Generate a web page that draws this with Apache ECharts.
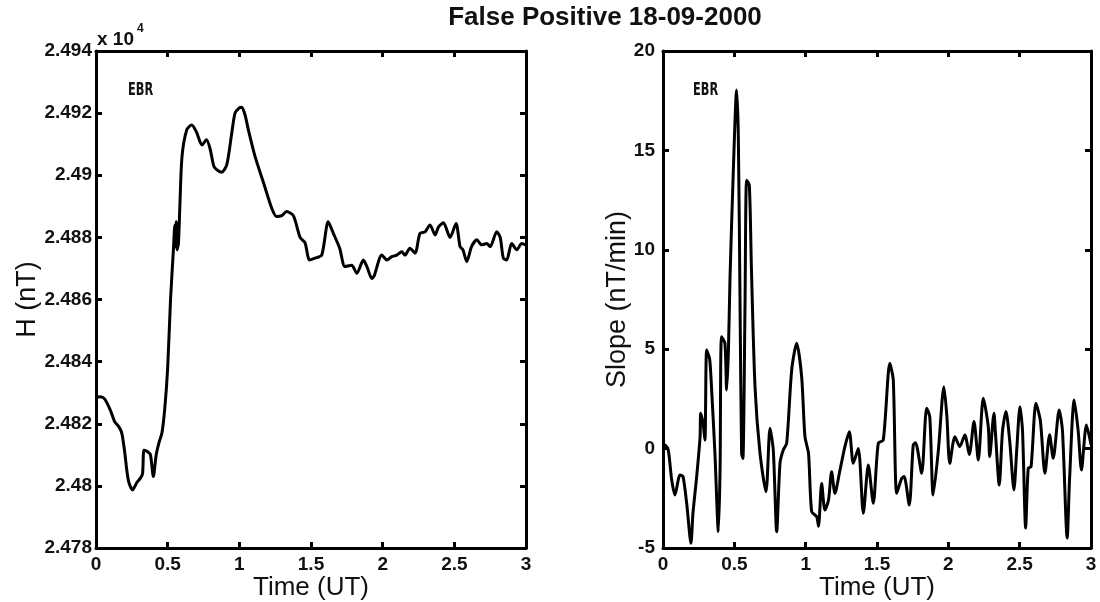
<!DOCTYPE html>
<html>
<head>
<meta charset="utf-8">
<script src="https://cdn.jsdelivr.net/npm/echarts@6/dist/echarts.min.js"></script>
<style>html,body{margin:0;padding:0;background:#fff}#c{width:1100px;height:602px}</style>
</head>
<body>
<div id="c"></div>
<script>
// ---- Data ----
const chartTitle = 'False Positive 18-09-2000';
const stationLabel = 'EBR';
const xTicks = [0, 0.5, 1, 1.5, 2, 2.5, 3];
const hTicks = [24780, 24800, 24820, 24840, 24860, 24880, 24900, 24920, 24940];
const slopeTicks = [-5, 0, 5, 10, 15, 20];

const hTime = [0,0.03,0.06,0.1,0.13,0.16,0.18,0.2,0.215,0.23,0.256,0.284,0.31,0.325,0.335,0.36,0.38,0.40,0.42,0.44,0.46,0.48,0.5,0.52,0.54,0.55,0.555,0.56,0.565,0.575,0.585,0.6,0.633,0.668,0.70,0.74,0.77,0.795,0.823,0.85,0.877,0.912,0.947,0.97,1.0,1.017,1.04,1.063,1.11,1.17,1.226,1.26,1.296,1.33,1.377,1.424,1.458,1.49,1.528,1.575,1.62,1.656,1.70,1.737,1.784,1.82,1.865,1.89,1.924,1.94,1.994,2.03,2.063,2.098,2.133,2.156,2.19,2.226,2.26,2.296,2.33,2.366,2.39,2.424,2.47,2.512,2.54,2.56,2.587,2.62,2.657,2.69,2.726,2.75,2.796,2.82,2.842,2.865,2.90,2.936,2.97,3.0];
const hValues = [24828.5,24828.7,24828,24824.4,24820.7,24819,24817,24811,24805,24801,24798.7,24801,24802.5,24804,24811.5,24811,24810,24803,24810,24814,24817,24825,24838,24860,24876,24884,24877,24885,24876,24878,24890,24906,24914.6,24916.2,24914,24909.7,24911.4,24908.7,24902.8,24901.5,24901,24903.3,24913.5,24920,24921.7,24921.9,24919.4,24914.6,24906,24897.4,24889.4,24886.7,24887,24888.3,24887,24880,24878.3,24872.7,24873.3,24874.3,24885,24881.3,24876.5,24870.6,24871,24868.4,24872.7,24870.6,24866.8,24867.5,24874.3,24872.7,24873.8,24874.3,24875.4,24874.3,24876.5,24874.9,24881.3,24881.8,24884,24880.8,24883.4,24884.7,24880,24884.5,24877,24876,24872.2,24877,24879.2,24877.6,24878,24877,24881.8,24880,24873.3,24872.7,24878,24876,24878,24877.5];

const slopeTime = [0,0.014,0.037,0.061,0.084,0.119,0.14,0.166,0.196,0.21,0.236,0.26,0.264,0.28,0.294,0.306,0.327,0.341,0.364,0.388,0.40,0.41,0.434,0.446,0.458,0.47,0.493,0.516,0.528,0.54,0.551,0.56,0.575,0.586,0.605,0.62,0.645,0.68,0.722,0.75,0.773,0.797,0.82,0.843,0.867,0.902,0.937,0.972,0.995,1.02,1.042,1.077,1.09,1.112,1.135,1.16,1.182,1.205,1.24,1.275,1.306,1.334,1.369,1.404,1.439,1.474,1.509,1.544,1.59,1.614,1.638,1.673,1.69,1.726,1.754,1.77,1.813,1.848,1.87,1.894,1.93,1.969,1.99,2.01,2.046,2.08,2.116,2.147,2.18,2.21,2.245,2.28,2.29,2.32,2.33,2.357,2.38,2.404,2.43,2.46,2.48,2.502,2.52,2.542,2.56,2.58,2.614,2.645,2.677,2.71,2.735,2.777,2.80,2.833,2.85,2.882,2.91,2.933,2.968,3.0];
const slopeValues = [0.1,0.18,-0.07,-1.58,-2.33,-1.33,-1.4,-2.75,-4.76,-3.25,-1.41,0.6,1.78,1.3,0.43,4.96,4.5,2.95,-0.24,-4.18,-1.08,5.63,5.3,2.95,4.8,8.65,14.0,18.04,15.7,7.3,-0.24,-0.5,7.3,13.5,13.26,8.98,3.1,-0.24,-2.17,1.02,-0.07,-4.18,-0.74,-0.07,0.27,3.95,5.3,3.6,0.6,-0.24,-3.17,-3.42,-3.9,-1.75,-3.09,-2.6,-1.16,-2.25,-1.1,0.1,0.85,-0.74,0.01,-3.25,-0.83,-2.75,0.27,0.43,4.29,3.45,-2.25,-1.5,-1.4,-2.84,0.18,0.3,-1.24,2.03,1.6,-2.33,-0.1,3.11,1.6,-0.74,0.6,0.1,0.68,-0.3,1.36,-0.57,2.53,1.1,-0.4,1.78,0.8,-1.83,0.9,1.86,0.4,-2.08,0,2.11,0.9,-4.0,-1.0,-0.9,2.28,1.4,-1.24,0.7,-0.49,1.94,0.9,-4.5,-1.5,2.44,0.9,-1.08,1.19,0.2];

// ---- Chart ----
const chart = echarts.init(document.getElementById('c'), null, {renderer: 'canvas'});
const F = 'Liberation Sans, Arial, sans-serif';
const lineStyle = {color: '#000', width: 3};
const tickLabel = {color: '#111', fontFamily: F, fontWeight: 'bold', fontSize: 19};

function xAx(gi, pos, showLabel, name) {
  return {
    type: 'value', gridIndex: gi, position: pos, min: 0, max: 3, interval: 0.5,
    axisLine: {show: true, onZero: false, lineStyle: lineStyle},
    axisTick: {show: true, inside: true, length: 6, lineStyle: {color: '#000', width: 3}},
    axisLabel: Object.assign({show: showLabel, margin: 7, formatter: v => String(v)}, tickLabel),
    splitLine: {show: false},
    name: name || '', nameLocation: 'middle', nameGap: 27, nameMoveOverlap: false,
    nameTextStyle: {fontFamily: F, fontSize: 26, color: '#111'}
  };
}
function yAx(gi, pos, showLabel, min, max, interval, fmt, name, gap) {
  return {
    type: 'value', gridIndex: gi, position: pos, min: min, max: max, interval: interval,
    axisLine: {show: true, onZero: false, lineStyle: lineStyle},
    axisTick: {show: true, inside: true, length: 6, lineStyle: {color: '#000', width: 3}},
    axisLabel: Object.assign({show: showLabel, margin: gi === 1 ? 8 : 4, formatter: fmt}, tickLabel),
    splitLine: {show: false},
    name: name || '', nameLocation: 'middle', nameGap: gap || 0, nameMoveOverlap: false,
    nameTextStyle: {fontFamily: F, fontSize: 27, color: '#111'}
  };
}

const hFmt = v => String(parseFloat((v / 1e4).toFixed(3)));
const sFmt = v => String(v);

chart.setOption({
  animation: false,
  backgroundColor: '#fff',
  grid: [
    {left: 96, top: 51, width: 430, height: 497, containLabel: false, outerBoundsMode: 'none'},
    {left: 663, top: 51, width: 428, height: 497, containLabel: false, outerBoundsMode: 'none'}
  ],
  xAxis: [
    xAx(0, 'bottom', true, 'Time (UT)'),
    xAx(0, 'top', false),
    xAx(1, 'bottom', true, 'Time (UT)'),
    xAx(1, 'top', false)
  ],
  yAxis: [
    yAx(0, 'left', true, hTicks[0], hTicks[hTicks.length - 1], 20, hFmt, 'H (nT)', 55),
    yAx(0, 'right', false, hTicks[0], hTicks[hTicks.length - 1], 20, hFmt),
    yAx(1, 'left', true, slopeTicks[0], slopeTicks[slopeTicks.length - 1], 5, sFmt, 'Slope (nT/min)', 32),
    yAx(1, 'right', false, slopeTicks[0], slopeTicks[slopeTicks.length - 1], 5, sFmt)
  ],
  series: [
    {type: 'line', xAxisIndex: 0, yAxisIndex: 0, showSymbol: false, smooth: 0.25,
     lineStyle: {color: '#000', width: 3}, data: hTime.map((t, i) => [t, hValues[i]])},
    {type: 'line', xAxisIndex: 2, yAxisIndex: 2, showSymbol: false, smooth: 0.25,
     lineStyle: {color: '#000', width: 3}, data: slopeTime.map((t, i) => [t, slopeValues[i]])}
  ],
  graphic: [
    {type: 'text', x: 605, y: 18, style: {text: chartTitle, fontFamily: F, fontWeight: 'bold', fontSize: 26, fill: '#111', textAlign: 'center', textVerticalAlign: 'middle'}},
    {type: 'text', x: 97, y: 40, style: {text: 'x 10', fontFamily: F, fontWeight: 'bold', fontSize: 19, fill: '#111', textVerticalAlign: 'middle'}},
    {type: 'text', x: 137, y: 29, style: {text: '4', fontFamily: F, fontWeight: 'bold', fontSize: 12, fill: '#111', textVerticalAlign: 'middle'}},
    {type: 'text', x: 128, y: 90, scaleX: 0.7, style: {text: stationLabel, fontFamily: 'DejaVu Sans Condensed, DejaVu Sans', fontWeight: 'bold', fontSize: 18, fill: '#111', textVerticalAlign: 'middle'}},
    {type: 'text', x: 693, y: 90, scaleX: 0.7, style: {text: stationLabel, fontFamily: 'DejaVu Sans Condensed, DejaVu Sans', fontWeight: 'bold', fontSize: 18, fill: '#111', textVerticalAlign: 'middle'}}
  ]
});
</script>
</body>
</html>
